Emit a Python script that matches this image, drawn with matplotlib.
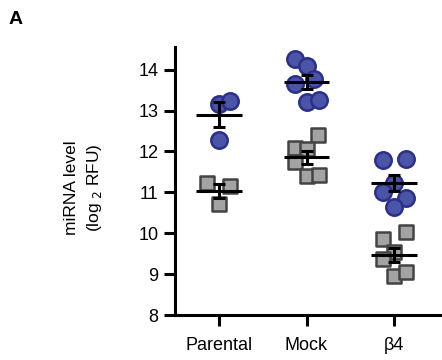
import numpy as np
import matplotlib
matplotlib.use("Agg")
import matplotlib.pyplot as plt

plt.rcParams['font.family'] = ['Liberation Sans', 'DejaVu Sans']

groups = ["Parental", "Mock", "β4"]

# miRNA level (log2 RFU)
circles = [
    [13.16, 13.24, 12.29],
    [14.25, 14.10, 13.65, 13.76, 13.22, 13.26],
    [11.79, 11.81, 11.23, 11.02, 10.87, 10.65],
]
squares = [
    [11.23, 11.15, 10.71],
    [12.41, 12.09, 12.07, 11.73, 11.41, 11.43],
    [9.87, 10.04, 9.53, 9.38, 8.95, 9.04],
]

# horizontal scatter of the points within each group (beeswarm layout)
circle_jit = [
    [0.0, 0.13, 0.0],
    [-0.13, 0.0, -0.13, 0.08, 0.0, 0.14],
    [-0.13, 0.13, 0.0, -0.13, 0.13, 0.0],
]
square_jit = [
    [-0.14, 0.13, 0.0],
    [0.13, -0.13, 0.0, -0.13, 0.0, 0.14],
    [-0.13, 0.13, 0.0, -0.13, 0.0, 0.13],
]

circ_face = "#4b55a8"
circ_edge = "#2a3088"
sq_face = "#a3a3a6"
sq_edge = "#444444"

fig = plt.figure(figsize=(4.42, 3.6), dpi=100)
ax = fig.add_axes([0.396, 0.125, 0.599, 0.744])

for i in range(len(groups)):
    c = np.array(circles[i])
    s = np.array(squares[i])
    ax.scatter(i + np.array(circle_jit[i]), c, s=140, marker='o',
               facecolor=circ_face, edgecolor=circ_edge, linewidth=1.8, zorder=2)
    ax.scatter(i + np.array(square_jit[i]), s, s=115, marker='s',
               facecolor=sq_face, edgecolor=sq_edge, linewidth=1.8, zorder=2)
    for vals in (c, s):
        m = vals.mean()
        sem = vals.std(ddof=1) / np.sqrt(len(vals))
        ax.hlines(m, i - 0.26, i + 0.26, color='black', linewidth=2.2, zorder=3)
        ax.errorbar(i, m, yerr=sem, color='black', capsize=4.2, capthick=2.2,
                    elinewidth=2.2, zorder=3)

ax.set_xlim(-0.5, 2.52)
ax.set_ylim(8, 14.55)
ax.set_yticks(range(8, 15))
ax.set_xticks(range(len(groups)))
ax.set_xticklabels(groups)
ax.tick_params(labelsize=13, width=2.2, length=8, pad=4)
ax.tick_params(axis='x', pad=8)
for side in ('top', 'right'):
    ax.spines[side].set_visible(False)
for side in ('left', 'bottom'):
    ax.spines[side].set_linewidth(2.2)

fig.text(0.19, 0.48, "miRNA level\n(log$_{\\ 2}$ RFU)", rotation=90,
         ha='center', va='center', fontsize=12.5, linespacing=1.45)
fig.text(0.02, 0.945, "A", fontsize=14, fontweight='bold', ha='left', va='center')

fig.savefig("out.png", dpi=100)
